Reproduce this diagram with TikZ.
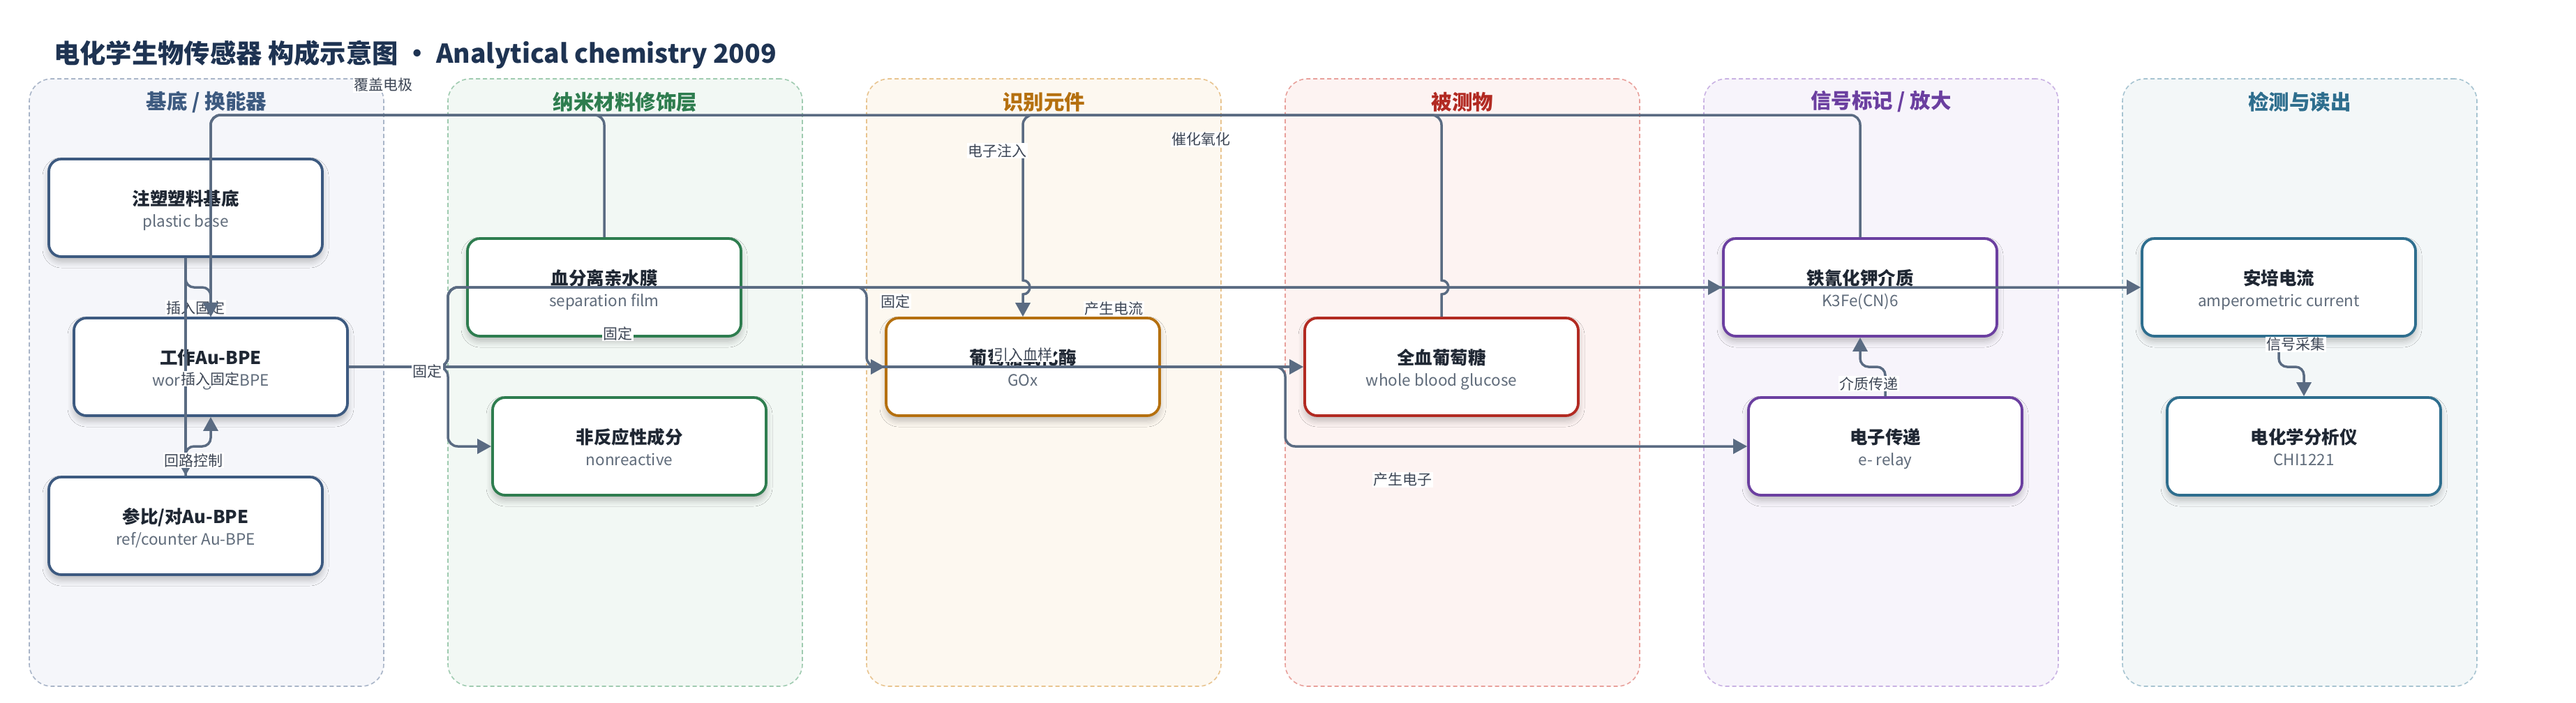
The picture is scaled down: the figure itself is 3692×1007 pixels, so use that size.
\documentclass[tikz,border=0pt]{standalone}
\usepackage{fontspec}
\setmainfont{Noto Sans CJK SC}
\usetikzlibrary{arrows.meta,shadows.blur}
\definecolor{edgec}{HTML}{5A6B82}
\definecolor{titlec}{HTML}{1E3352}
\definecolor{labc}{HTML}{3D4655}
\definecolor{subc}{HTML}{5F6B7A}
\definecolor{boxt}{HTML}{1F2733}
\definecolor{pAt}{HTML}{3D5A80}\definecolor{pAf}{HTML}{F5F6FA}\definecolor{pAd}{HTML}{A9B5C8}
\definecolor{pBt}{HTML}{2E7D4F}\definecolor{pBf}{HTML}{F2F8F4}\definecolor{pBd}{HTML}{9FCBB0}
\definecolor{pCt}{HTML}{B5700F}\definecolor{pCf}{HTML}{FDF8F0}\definecolor{pCd}{HTML}{E8C48F}
\definecolor{pDt}{HTML}{B22A22}\definecolor{pDf}{HTML}{FDF3F2}\definecolor{pDd}{HTML}{E8A09B}
\definecolor{pEt}{HTML}{6B3FA0}\definecolor{pEf}{HTML}{F7F4FB}\definecolor{pEd}{HTML}{C9B2E3}
\definecolor{pFt}{HTML}{2E6E8E}\definecolor{pFf}{HTML}{F3F7F8}\definecolor{pFd}{HTML}{A7C4D1}
\newcommand\mkbox[6]{%
  \node[bx, draw=#4] (#1) at (#2,#3) {};
  \node[btitle] (#1t) at (#2,#3-3.5) {#5};
  \node[bsub] (#1s) at (#2,#3+27.5) {#6};
}
\begin{document}
\begin{tikzpicture}[x=1pt,y=-1pt,
  panel/.style={rectangle, rounded corners=32pt, minimum width=508pt, minimum height=871pt, dash pattern=on 6pt off 4pt, line width=1.6pt, inner sep=0pt},
  ptitle/.style={font=\bfseries\fontsize{29.5}{32}\selectfont, inner sep=0pt},
  bx/.style={rectangle, rounded corners=18pt, minimum width=392pt, minimum height=140pt, fill=white, line width=3.8pt, inner sep=0pt,
     blur shadow={shadow xshift=0pt, shadow yshift=-7pt, shadow blur radius=9pt, shadow blur steps=8, shadow opacity=25}},
  btitle/.style={anchor=base, inner sep=0pt, text=boxt, font=\bfseries\fontsize{25.5}{30}\selectfont},
  bsub/.style={anchor=base, inner sep=0pt, text=subc, font=\fontsize{22.5}{26}\selectfont},
  edge/.style={draw=edgec, line width=3.5pt, -{Triangle[length=20pt,width=21pt]}},
  lbl/.style={fill=white, inner sep=1.5pt, text=labc, font=\fontsize{21}{24}\selectfont},
  hop/.style={out=0, in=0, looseness=1.7}
]
\useasboundingbox (0,0) rectangle (3692,1007);
\fill[white] (0,0) rectangle (3692,1007);

% title
\node[anchor=base west, inner sep=0pt, text=titlec, font=\bfseries\fontsize{37.3}{40}\selectfont] (title) at (77,90) {电化学生物传感器 构成示意图 · Analytical chemistry 2009};

% panels
\node[panel, draw=pAd, fill=pAf] (pan1) at (296,548.5) {};
\node[panel, draw=pBd, fill=pBf] (pan2) at (896,548.5) {};
\node[panel, draw=pCd, fill=pCf] (pan3) at (1496,548.5) {};
\node[panel, draw=pDd, fill=pDf] (pan4) at (2096,548.5) {};
\node[panel, draw=pEd, fill=pEf] (pan5) at (2696,548.5) {};
\node[panel, draw=pFd, fill=pFf] (pan6) at (3296,548.5) {};
\node[ptitle, text=pAt] (pt1) at (296,146) {基底 / 换能器};
\node[ptitle, text=pBt] (pt2) at (896,146) {纳米材料修饰层};
\node[ptitle, text=pCt] (pt3) at (1496,146) {识别元件};
\node[ptitle, text=pDt] (pt4) at (2096,146) {被测物};
\node[ptitle, text=pEt] (pt5) at (2696,146) {信号标记 / 放大};
\node[ptitle, text=pFt] (pt6) at (3296,146) {检测与读出};

% boxes
\mkbox{zs}{266}{298}{pAt}{注塑塑料基底}{plastic base}
\mkbox{gz}{302}{526}{pAt}{工作Au-BPE}{working Au-BPE}
\mkbox{cb}{266}{754}{pAt}{参比/对Au-BPE}{ref/counter Au-BPE}
\mkbox{xf}{866}{412}{pBt}{血分离亲水膜}{separation film}
\mkbox{nr}{902}{640}{pBt}{非反应性成分}{nonreactive}
\mkbox{gox}{1466}{526}{pCt}{葡萄糖氧化酶}{GOx}
\mkbox{qx}{2066}{526}{pDt}{全血葡萄糖}{whole blood glucose}
\mkbox{tq}{2666}{412}{pEt}{铁氰化钾介质}{K3Fe(CN)6}
\mkbox{dz}{2702}{640}{pEt}{电子传递}{e- relay}
\mkbox{ap}{3266}{412}{pFt}{安培电流}{amperometric current}
\mkbox{fx}{3302}{640}{pFt}{电化学分析仪}{CHI1221}

% label crossed by lines
\node[lbl] (l1) at (280,441) {插入固定};

% edges
\draw[edge, rounded corners=12pt] (zs.south) |- (302,412) -- (gz.north);
\draw[edge] (zs.south) -- (cb.north);
\draw[edge, rounded corners=12pt] (cb.north) |- (302,640) -- (gz.south);
\draw[edge, rounded corners=14pt] (xf.north) |- (302,165) -- (gz.north);
\draw[edge, rounded corners=14pt] (tq.north) |- (302,165) -- (gz.north);
\draw[edge, sharp corners] (qx.north) -- (2066,422) to[hop] (2066,402) -- (2066,380)
   [rounded corners=14pt] -- (2066,165) -- (1466,165) -- (1466,380)
   [sharp corners] -- (1466,402) to[hop] (1466,422) -- (gox.north);
\draw[edge, rounded corners=14pt] (gz.east) -- (642,526) |- (nr.west);
\draw[edge, rounded corners=14pt] (gz.east) -- (642,526) |- (1242,412) |- (gox.west);
\draw[edge, rounded corners=14pt] (gz.east) -- (642,526) |- (tq.west);
\draw[edge, rounded corners=14pt] (gz.east) -- (642,526) |- (ap.west);
\draw[edge] (gz.east) -- (qx.west);
\draw[edge, rounded corners=14pt] (gox.east) -- (1842,526) |- (dz.west);
\draw[edge, rounded corners=12pt] (dz.north) |- (2666,526) -- (tq.south);
\draw[edge, rounded corners=12pt] (ap.south) |- (3302,526) -- (fx.north);

% labels
\node[lbl] (l2) at (549,122) {覆盖电极};
\node[lbl] (l3) at (301,543) {插入固定};
\node[lbl] (l4) at (277,660) {回路控制};
\node[lbl] (l5) at (612,532) {固定};
\node[lbl] (l6) at (885,478) {固定};
\node[lbl] (l7) at (1283,432) {固定};
\node[lbl] (l8) at (1429,216) {电子注入};
\node[lbl] (l9) at (1721,200) {催化氧化};
\node[lbl] (l10) at (1596,443) {产生电流};
\node[lbl] (l11) at (1466,508) {引入血样};
\node[lbl] (l12) at (2010,688) {产生电子};
\node[lbl] (l13) at (2678,550) {介质传递};
\node[lbl] (l14) at (3290,494) {信号采集};
\end{tikzpicture}
\end{document}
